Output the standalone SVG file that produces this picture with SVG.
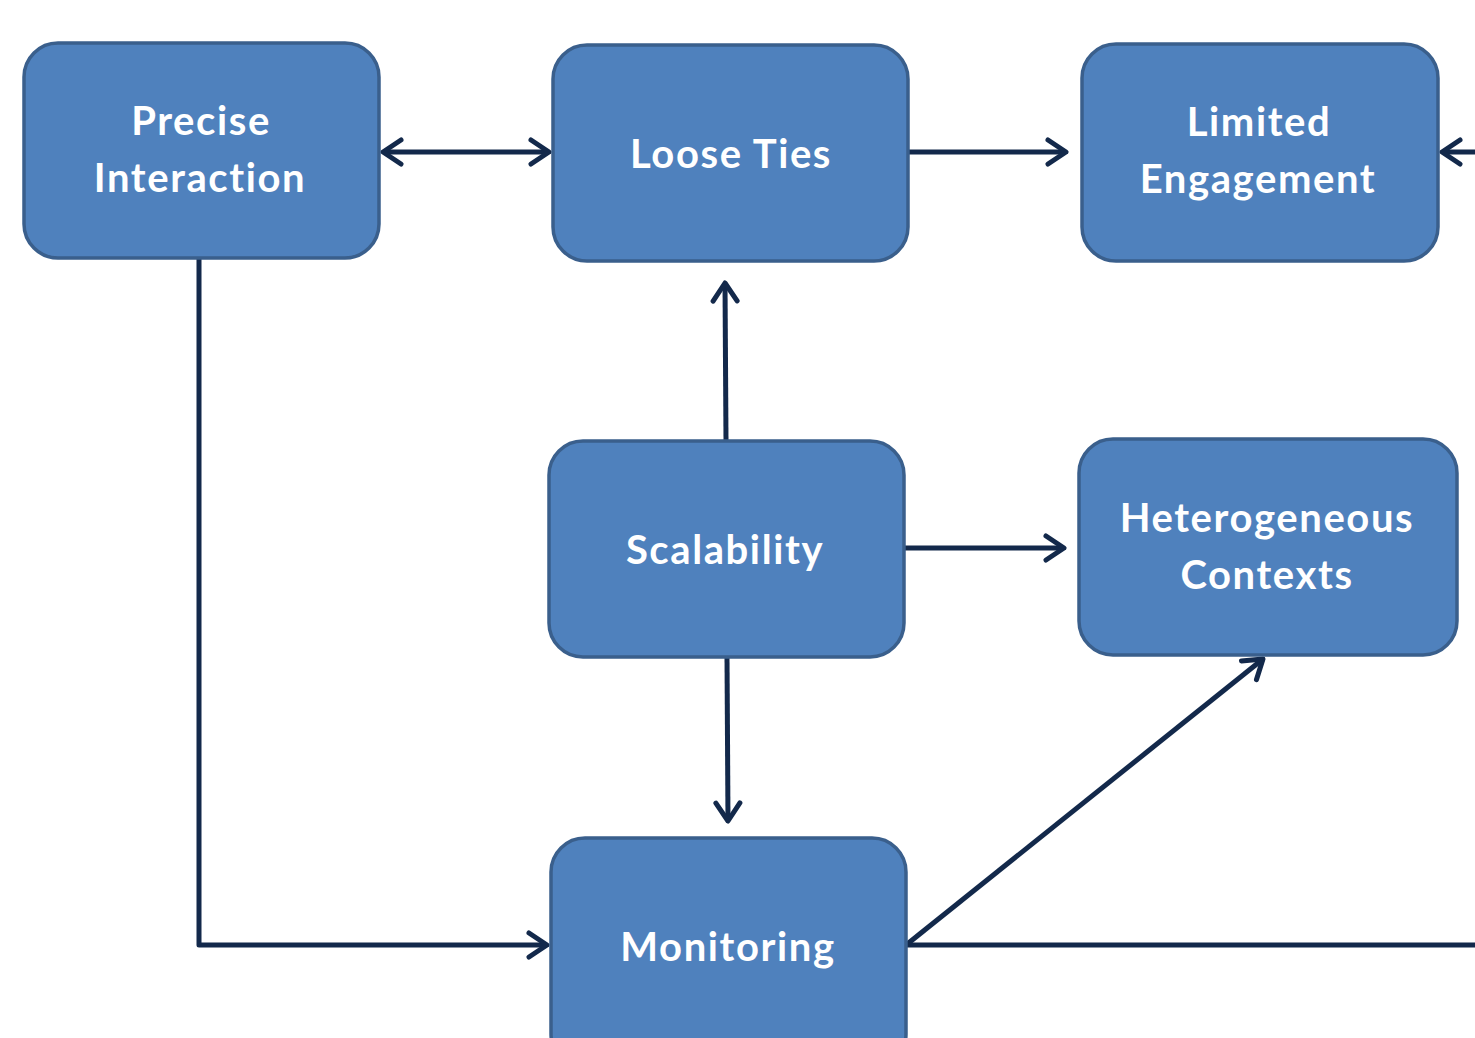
<svg xmlns="http://www.w3.org/2000/svg" width="1475" height="1038" viewBox="0 0 1475 1038">
  <defs>
    <style>
      .node rect { fill: #4f81bd; stroke: #3a5f8c; stroke-width: 3.5; }
      .node text { fill: #ffffff; font-family: Lato, "Open Sans", "Liberation Sans", sans-serif; font-weight: bold; font-size: 40px; letter-spacing: 1.6px; text-anchor: middle; }
      .edge { fill: none; stroke: #13294b; stroke-width: 5; stroke-linejoin: round; }
    </style>
    <marker id="arrow" viewBox="-22 -15 26 30" markerWidth="26" markerHeight="30" refX="0" refY="0" orient="auto-start-reverse" markerUnits="userSpaceOnUse">
      <path d="M -18 -12 L 0 0 L -18 12" fill="none" stroke="#13294b" stroke-width="5" stroke-linecap="round" stroke-linejoin="round"/>
    </marker>
  </defs>
  <rect width="1475" height="1038" fill="#ffffff"/>

  <g id="connectors">
    <path class="edge" d="M 383 152 L 549 152" marker-start="url(#arrow)" marker-end="url(#arrow)"/>
    <path class="edge" d="M 908 152 L 1066 152" marker-end="url(#arrow)"/>
    <path class="edge" d="M 1480 152 L 1442 152" marker-end="url(#arrow)"/>
    <path class="edge" d="M 726 441 L 725 283" marker-end="url(#arrow)"/>
    <path class="edge" d="M 904 548 L 1064 548" marker-end="url(#arrow)"/>
    <path class="edge" d="M 727 657 L 728 821" marker-end="url(#arrow)"/>
    <path class="edge" d="M 199 258 L 199 945 L 547 945" marker-end="url(#arrow)"/>
    <path class="edge" d="M 906 945 L 1263 659" marker-end="url(#arrow)"/>
    <path class="edge" d="M 906 945 L 1480 945"/>
  </g>

  <g id="precise-interaction" class="node">
    <rect x="24" y="43" width="355" height="215" rx="34"/>
    <text x="201" y="135">Precise</text>
    <text x="200" y="192">Interaction</text>
  </g>
  <g id="loose-ties" class="node">
    <rect x="553" y="45" width="355" height="216" rx="34"/>
    <text x="731" y="168">Loose Ties</text>
  </g>
  <g id="limited-engagement" class="node">
    <rect x="1082" y="44" width="356" height="217" rx="34"/>
    <text x="1259" y="136">Limited</text>
    <text x="1258" y="193">Engagement</text>
  </g>
  <g id="scalability" class="node">
    <rect x="549" y="441" width="355" height="216" rx="34"/>
    <text x="725" y="564">Scalability</text>
  </g>
  <g id="heterogeneous-contexts" class="node">
    <rect x="1079" y="439" width="378" height="216" rx="34"/>
    <text x="1267" y="532">Heterogeneous</text>
    <text x="1267" y="589">Contexts</text>
  </g>
  <g id="monitoring" class="node">
    <rect x="551" y="838" width="355" height="230" rx="34"/>
    <text x="728" y="961">Monitoring</text>
  </g>
</svg>
